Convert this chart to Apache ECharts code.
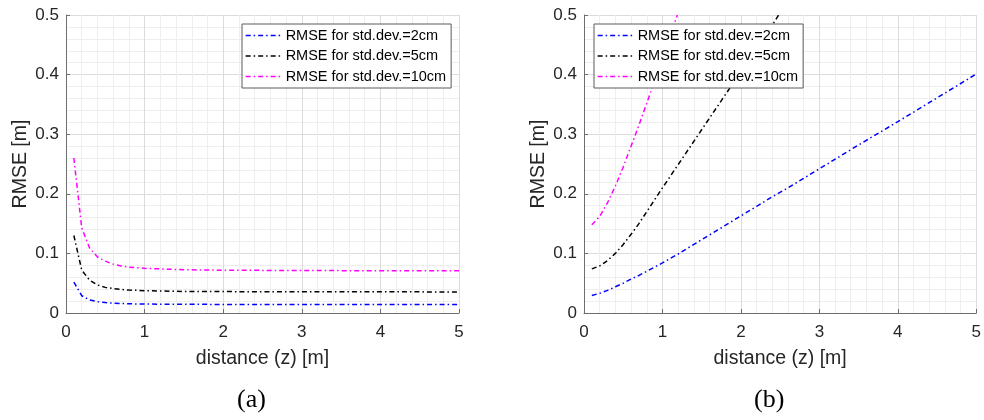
<!DOCTYPE html>
<html>
<head>
<meta charset="utf-8">
<script src="https://cdn.jsdelivr.net/npm/echarts@6/dist/echarts.min.js"></script>
<style>
  html, body { margin: 0; padding: 0; background: #ffffff; }
  #chart { width: 984px; height: 420px; }
</style>
</head>
<body>
<div id="chart"></div>
<script>
// ---- Data ----
const seriesNames = ['RMSE for std.dev.=2cm', 'RMSE for std.dev.=5cm', 'RMSE for std.dev.=10cm'];
const seriesColors = ['#0000ff', '#000000', '#ff00ff'];
const panelCaptions = ['(a)', '(b)'];
const axisXName = 'distance (z) [m]';
const axisYName = 'RMSE [m]';

// Panel (a)
const distA = [0.1, 0.2, 0.3, 0.4, 0.5, 0.6, 0.7, 0.8, 0.9, 1.0, 1.5, 2, 3, 4, 5];
const rmseA2cm  = [0.052, 0.029, 0.022, 0.019, 0.0175, 0.0166, 0.016, 0.0155, 0.0152, 0.015, 0.0146, 0.0144, 0.0142, 0.0142, 0.0141];
const rmseA5cm  = [0.130, 0.072, 0.055, 0.047, 0.043, 0.041, 0.0395, 0.0385, 0.038, 0.0375, 0.0362, 0.0359, 0.0356, 0.0355, 0.0354];
const rmseA10cm = [0.260, 0.143, 0.109, 0.094, 0.087, 0.082, 0.079, 0.077, 0.076, 0.075, 0.0725, 0.0718, 0.0712, 0.071, 0.0709];

// Panel (b)
const distB2cm  = [0.1, 0.2, 0.3, 0.4, 0.5, 0.6, 0.7, 0.8, 0.9, 1.0, 1.2, 1.4, 1.6, 1.8, 2.0, 2.2, 2.4, 2.6, 3.0, 3.5, 4.0, 4.5, 5.0];
const rmseB2cm  = [0.0295, 0.033, 0.038, 0.044, 0.050, 0.057, 0.063, 0.070, 0.077, 0.084, 0.099, 0.115, 0.131, 0.147, 0.163, 0.179, 0.195, 0.21, 0.242, 0.282, 0.321, 0.361, 0.401];
const distB5cm  = [0.1, 0.2, 0.3, 0.4, 0.5, 0.6, 0.7, 0.8, 0.9, 1.0, 1.2, 1.4, 1.6, 1.8, 2.0, 2.2, 2.4, 2.48];
const rmseB5cm  = [0.074, 0.079, 0.088, 0.100, 0.115, 0.132, 0.150, 0.170, 0.190, 0.210, 0.249, 0.288, 0.327, 0.366, 0.405, 0.444, 0.483, 0.5];
const distB10cm = [0.1, 0.2, 0.3, 0.4, 0.5, 0.6, 0.7, 0.8, 0.9, 1.0, 1.1, 1.19];
const rmseB10cm = [0.148, 0.162, 0.185, 0.213, 0.245, 0.28, 0.315, 0.352, 0.39, 0.427, 0.465, 0.5];

// ---- Build chart ----
const FONT = 'Liberation Sans, Arial, Helvetica, sans-serif';
const pairs = (xs, ys) => xs.map((x, i) => [x, ys[i]]);

function makeX(gridIndex) {
  return {
    type: 'value', gridIndex, min: 0, max: 5, interval: 1,
    name: axisXName, nameLocation: 'middle', nameGap: 36,
    nameTextStyle: { fontFamily: FONT, fontSize: 19.5, color: '#262626' },
    axisLine: { show: true, onZero: false, lineStyle: { color: '#6e6e6e', width: 1 } },
    axisTick: { show: true, inside: true, length: 4, lineStyle: { color: '#6e6e6e' } },
    axisLabel: { fontFamily: FONT, fontSize: 17, color: '#262626', margin: 11 },
    splitLine: { show: true, lineStyle: { color: '#dcdcdc', width: 1 } },
    minorTick: { show: false, splitNumber: 5 },
    minorSplitLine: { show: true, lineStyle: { color: '#eeeeee', width: 1 } }
  };
}
function makeY(gridIndex) {
  return {
    type: 'value', gridIndex, min: 0, max: 0.5, interval: 0.1,
    name: axisYName, nameLocation: 'middle', nameGap: 35, nameRotate: 90,
    nameTextStyle: { fontFamily: FONT, fontSize: 19.5, color: '#262626' },
    axisLine: { show: true, onZero: false, lineStyle: { color: '#6e6e6e', width: 1 } },
    axisTick: { show: true, inside: true, length: 4, lineStyle: { color: '#6e6e6e' } },
    axisLabel: { fontFamily: FONT, fontSize: 17, color: '#262626', margin: 7,
      formatter: v => (Math.round(v * 10) / 10).toString() },
    splitLine: { show: true, lineStyle: { color: '#dcdcdc', width: 1 } },
    minorTick: { show: false, splitNumber: 5 },
    minorSplitLine: { show: true, lineStyle: { color: '#eeeeee', width: 1 } }
  };
}
function makeSeries(name, color, data, idx) {
  return {
    type: 'line', name, data, xAxisIndex: idx, yAxisIndex: idx,
    showSymbol: false, symbol: 'none', clip: true,
    lineStyle: { color, width: 1.5, type: [5, 3, 1.5, 3] },
    itemStyle: { color },
    emphasis: { disabled: true }, animation: false, z: 3
  };
}
function makeLegend(left) {
  return {
    left, top: 24, orient: 'vertical',
    data: seriesNames,
    itemWidth: 35, itemHeight: 14, itemGap: 5.5,
    padding: [4, 5, 4, 3],
    borderColor: '#5a5a5a', borderWidth: 1, backgroundColor: '#ffffff',
    itemStyle: { opacity: 0, borderWidth: 0 },
    lineStyle: { width: 1.3 },
    textStyle: { fontFamily: FONT, fontSize: 14.5, color: '#000000' },
    selectedMode: false
  };
}

const option = {
  animation: false,
  backgroundColor: '#ffffff',
  grid: [
    { left: 66, right: 525, top: 15, bottom: 107, containLabel: false },
    { left: 584, right: 6, top: 15, bottom: 107, containLabel: false }
  ],
  xAxis: [makeX(0), makeX(1)],
  yAxis: [makeY(0), makeY(1)],
  legend: [makeLegend(242), makeLegend(594)],
  series: [
    makeSeries(seriesNames[0], seriesColors[0], pairs(distA, rmseA2cm), 0),
    makeSeries(seriesNames[1], seriesColors[1], pairs(distA, rmseA5cm), 0),
    makeSeries(seriesNames[2], seriesColors[2], pairs(distA, rmseA10cm), 0),
    makeSeries(seriesNames[0], seriesColors[0], pairs(distB2cm, rmseB2cm), 1),
    makeSeries(seriesNames[1], seriesColors[1], pairs(distB5cm, rmseB5cm), 1),
    makeSeries(seriesNames[2], seriesColors[2], pairs(distB10cm, rmseB10cm), 1)
  ],
  graphic: [
    { type: 'text', left: 237, top: 387,
      style: { text: panelCaptions[0], font: '26px "Liberation Serif", "DejaVu Serif", serif', fill: '#000' } },
    { type: 'text', left: 754, top: 387,
      style: { text: panelCaptions[1], font: '26px "Liberation Serif", "DejaVu Serif", serif', fill: '#000' } }
  ]
};

const chart = echarts.init(document.getElementById('chart'), null, { renderer: 'canvas' });
chart.setOption(option);
</script>
</body>
</html>
